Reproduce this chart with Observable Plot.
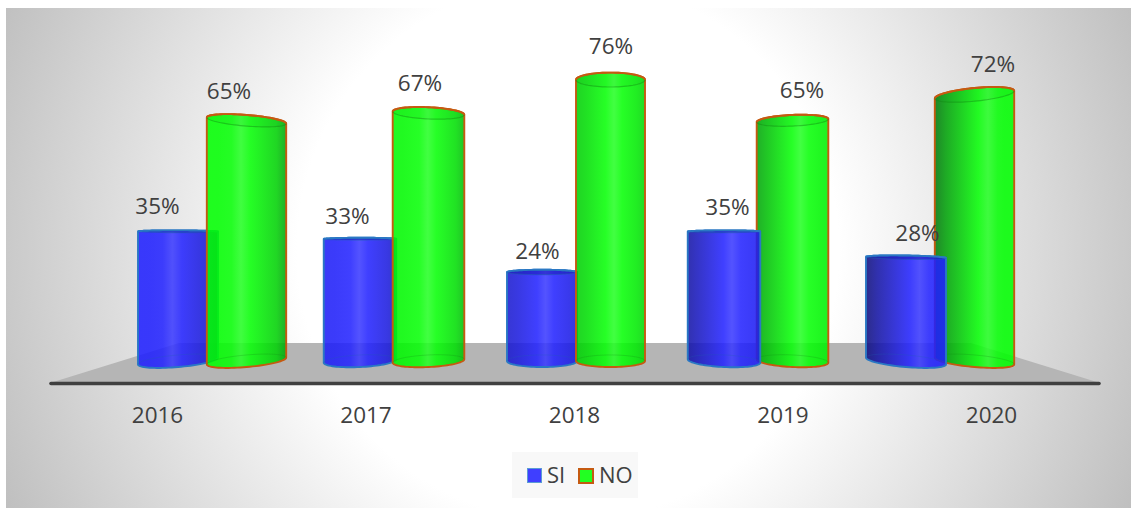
<!DOCTYPE html>
<html lang="es">
<head>
<meta charset="utf-8">
<script src="https://cdn.jsdelivr.net/npm/d3@7"></script>
<script src="https://cdn.jsdelivr.net/npm/@observablehq/plot@0.6"></script>
<style>
  html, body { margin: 0; padding: 0; background: #fff; }
  #chart { position: relative; width: 1131px; height: 508px; overflow: hidden; font-family: "Open Sans", sans-serif; }
  #bg { position: absolute; left: 6px; top: 8px; right: 0; bottom: 0;
        background: radial-gradient(circle 630px at 562px 242px, #fff 43%, #bdbdbd 100%); }
  #plot { position: absolute; left: 0; top: 0; }
  #legend { position: absolute; left: 512px; top: 452px; width: 126px; height: 46px; background: #f8f8f8;
            color: #404040; font-size: 22px; }
  #legend i { position: absolute; top: 16px; width: 15px; height: 15px; box-sizing: border-box; }
  #legend span { position: absolute; top: 7px; line-height: 30px; }
</style>
</head>
<body>
<div id="chart">
  <div id="bg"></div>
  <div id="plot"></div>
  <div id="legend">
    <i style="left:15px;background:#3f3fff;border:1px solid #5b9bd5"></i><span style="left:35px">SI</span>
    <i style="left:66px;width:16px;height:16px;background:#22ff22;border:2px solid #c55a11"></i><span style="left:87px">NO</span>
  </div>
</div>
<script>
const years = [2016, 2017, 2018, 2019, 2020];
const si = [35, 33, 24, 35, 28];
const no = [65, 67, 76, 65, 72];

// Layout helpers: the bars stand further back than the year labels in the 3D scene
const W = 1131, H = 508, bottom = 125;
const pxPerYear = 208.5, pxPerPct = 3.7;
const midYear = 2018, midX = 574, baseY = 361;
const yrAt = px => midYear + (px - midX) / pxPerYear;
const pctAt = py => (baseY - py) / pxPerPct;
const depth = 182 / pxPerYear;
const horizon = 235;

const style = {
  SI: {base: [31, 31, 255], hi: [58, 58, 255], dark: [10, 10, 90], stroke: "#2a78c4", rim: "#1f5fb0", cap: 0.5,
       offset: 542 - midX, w0: 70, w2: 2.5, lblK: 8, lblC: -5, lblY: [-25, -23, -21, -24, -24]},
  NO: {base: [0, 255, 0], hi: [38, 255, 38], dark: [0, 88, 14], stroke: "#c55a11", rim: "#158a15", cap: 0.08,
       offset: 610.5 - midX, w0: 69, w2: 2.6, lblK: 9, lblC: 0, lblY: [-29, -30, -34, -30, -30]}
};
const centerYr = (yr, s) => midYear + (yr - midYear) * depth + style[s].offset / pxPerYear;
const halfYr = (yr, s) => (style[s].w0 + style[s].w2 * (yr - midYear) ** 2) / 2 / pxPerYear;

const rows = [];
years.forEach((year, i) => {
  const pair = [{year, series: "SI", value: si[i], n: i}, {year, series: "NO", value: no[i], n: i}];
  if (year > midYear) pair.reverse();
  rows.push(...pair);
});
rows.forEach(r => {
  r.x1 = centerYr(r.year, r.series) - halfYr(r.year, r.series);
  r.x2 = centerYr(r.year, r.series) + halfYr(r.year, r.series);
  r.lx = centerYr(r.year, r.series) + (style[r.series].lblK * (r.year - midYear) + style[r.series].lblC) / pxPerYear;
});

const mix = (a, b, t) => `rgb(${a.map((v, k) => Math.round(v + (b[k] - v) * t)).join(",")})`;
const clamp = t => Math.max(0, Math.min(1, t));

function cylinders(index, scales, values) {
  const g = d3.create("svg:g");
  const defs = g.append("defs");
  for (const i of index) {
    const r = rows[i], s = style[r.series], d = r.year - midYear;
    const xl = values.x1[i], xr = values.x2[i], yt = values.y2[i], yb = values.y1[i];
    const cx = (xl + xr) / 2, a = (xr - xl) / 2;
    const bOf = y => 1 + Math.abs(y - horizon) * 0.04;
    const tiltOf = y => 0.027 * (y - horizon) * d;
    const pt = (cy, th) => {
      const b = bOf(cy), t = tiltOf(cy);
      return [cx + a * Math.cos(th), cy + b * Math.sin(th) + t / 2 * Math.cos(th)];
    };
    const arc = (cy, t0, t1) => d3.range(0, 41).map(k => pt(cy, t0 + (t1 - t0) * k / 40));
    const path = pts => "M" + pts.map(p => p[0].toFixed(2) + "," + p[1].toFixed(2)).join("L");

    const L = clamp(0.3 + 0.25 * d), R = clamp(0.25 - 0.15 * d), hi = 0.55 + 0.06 * d;
    const id = `cyl-${r.series}-${r.year}`;
    const lg = defs.append("linearGradient").attr("id", id);
    [[0, mix(s.base, s.dark, L)], [0.14, mix(s.base, s.dark, L * 0.7)], [hi - 0.12, mix(s.base, s.hi, 0.15)],
     [hi, mix(s.base, s.hi, 1)], [hi + 0.12, mix(s.base, s.hi, 0.15)], [0.88, mix(s.base, s.dark, R * 0.5)], [1, mix(s.base, s.dark, R)]]
      .forEach(([o, c]) => lg.append("stop").attr("offset", o).attr("stop-color", c));

    const body = [...arc(yt, Math.PI, 2 * Math.PI), ...arc(yb, 0, Math.PI)];
    // body
    g.append("path").attr("d", path(body) + "Z").attr("fill", `url(#${id})`).attr("fill-opacity", 0.87)
      .attr("stroke", s.stroke).attr("stroke-width", 1.9).attr("stroke-linejoin", "round");
    // base ellipse back edge
    g.append("path").attr("d", path(arc(yb, Math.PI, 2 * Math.PI))).attr("fill", "none")
      .attr("stroke", s.rim).attr("stroke-opacity", 0.25).attr("stroke-width", 1);
    // cap
    g.append("path").attr("d", path(arc(yt, 0, 2 * Math.PI)) + "Z")
      .attr("fill", mix(s.base, s.dark, 0.5)).attr("fill-opacity", s.cap)
      .attr("stroke", "none");
    g.append("path").attr("d", path(arc(yt, 0, Math.PI))).attr("fill", "none")
      .attr("stroke", s.rim).attr("stroke-opacity", 0.45).attr("stroke-width", 1.2);
    g.append("path").attr("d", path(arc(yt, Math.PI, 2 * Math.PI))).attr("fill", "none")
      .attr("stroke", s.stroke).attr("stroke-width", 1.9);
  }
  return g.node();
}

const floor = [
  {x: yrAt(50), top: pctAt(383)},
  {x: yrAt(179), top: pctAt(343)},
  {x: yrAt(971), top: pctAt(343)},
  {x: yrAt(1100), top: pctAt(383)}
];
const floorBase = pctAt(H - bottom);

const plot = Plot.plot({
  width: W,
  height: H,
  margin: 0,
  marginBottom: bottom,
  style: {background: "transparent", fontFamily: "'Open Sans', sans-serif", overflow: "visible"},
  x: {type: "linear", domain: [yrAt(0), yrAt(W)], range: [0, W]},
  y: {domain: [pctAt(H - bottom), pctAt(0)], range: [H - bottom, 0], axis: null},
  marks: [
    Plot.areaY(floor, {x: "x", y1: floorBase, y2: "top", fill: "#b5b5b5"}),
    Plot.ruleY([floorBase], {x1: yrAt(51), x2: yrAt(1099), stroke: "#404040", strokeWidth: 3.6, strokeLinecap: "round"}),
    Plot.rectY(rows, {x1: "x1", x2: "x2", y1: 0, y2: "value", render: cylinders}),
    Plot.text(rows, {x: "lx", y: "value", text: d => d.value + "%", fontSize: 22.5, fill: "#404040",
      lineAnchor: "middle", render(index, scales, values, dims, ctx, next) {
        const v = {...values, y: Float64Array.from(values.y, (p, i) => p + style[rows[i].series].lblY[rows[i].n])};
        return next(index, scales, v, dims, ctx);
      }}),
    Plot.axisX({ticks: years, tickFormat: d => String(d), tickSize: 0, tickPadding: 24, label: null,
      fontSize: 22.5, fill: "#404040", color: "#404040"})
  ]
});
document.getElementById("plot").appendChild(plot);
</script>
</body>
</html>
